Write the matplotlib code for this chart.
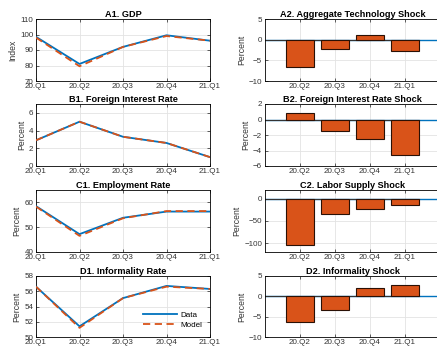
import matplotlib.pyplot as plt
import matplotlib as mpl

# ── data ─────────────────────────────────────────────────────────────────
QUARTERS = ["20.Q1", "20.Q2", "20.Q3", "20.Q4", "21.Q1"]
SHOCK_QUARTERS = ["20.Q2", "20.Q3", "20.Q4", "21.Q1"]

gdp_data = [98.5, 81.0, 92.0, 99.5, 96.0]
gdp_model = [98.0, 79.5, 92.0, 99.0, 96.0]
tech_shock = [-6.7, -2.3, 1.2, -2.7]

fir_data = [2.9, 5.0, 3.3, 2.6, 1.0]
fir_model = [2.9, 5.0, 3.3, 2.6, 1.0]
fir_shock = [0.8, -1.5, -2.5, -4.6]

emp_data = [58.5, 47.2, 53.8, 56.3, 56.3]
emp_model = [58.3, 46.5, 53.6, 56.5, 56.5]
labor_shock = [-105.0, -35.0, -24.0, -14.0]

inf_data = [56.6, 51.4, 55.1, 56.7, 56.3]
inf_model = [56.6, 51.2, 55.1, 56.6, 56.3]
inf_shock = [-6.2, -3.4, 2.0, 2.9]

BLUE = "#0072BD"
ORANGE = "#D95319"
EDGE = "#2a1005"

mpl.rcParams.update({
    "font.family": ["Liberation Sans", "DejaVu Sans"],
    "font.size": 5.8,
    "axes.linewidth": 0.6,
    "xtick.direction": "in",
    "ytick.direction": "in",
    "xtick.major.size": 2,
    "ytick.major.size": 2,
    "xtick.major.width": 0.5,
    "ytick.major.width": 0.5,
    "xtick.major.pad": 1.5,
    "ytick.major.pad": 2,
    "xtick.top": True,
    "ytick.right": True,
})

W, H = 437, 350
fig = plt.figure(figsize=(W / 100, H / 100), dpi=100)


def px_axes(x0, y0, x1, y1):
    return fig.add_axes([x0 / W, 1 - y1 / H, (x1 - x0) / W, (y1 - y0) / H])


def style(ax, title, ylabel):
    ax.set_title(title, fontsize=6.6, fontweight="bold", pad=1.5)
    ax.set_ylabel(ylabel, fontsize=6.2, color="#333333", labelpad=2)
    ax.grid(True, color="#e3e3e3", linewidth=0.6)
    ax.set_axisbelow(True)
    ax.tick_params(labelsize=5.8, colors="#222222", labelcolor="#333333")


def line_panel(ax, data, model, ylim, yticks, title, ylabel, legend=False):
    x = range(1, len(QUARTERS) + 1)
    ax.plot(x, data, color=BLUE, lw=1.3, label="Data", zorder=3)
    ax.plot(x, model, color=ORANGE, lw=1.3, ls=(0, (4, 2.5)), label="Model", zorder=4)
    ax.set_xlim(1, 5)
    ax.set_xticks(list(x))
    ax.set_xticklabels(QUARTERS)
    ax.set_ylim(*ylim)
    ax.set_yticks(yticks)
    style(ax, title, ylabel)
    if legend:
        ax.legend(loc="lower right", frameon=False, fontsize=5.8,
                  handlelength=4.2, handletextpad=0.4, labelspacing=0.3,
                  borderaxespad=0.6)


def bar_panel(ax, shocks, ylim, yticks, title, ylabel):
    x = list(range(2, 2 + len(shocks)))
    ax.axhline(0, color=BLUE, lw=1.0, zorder=2)
    ax.plot([1, x[-1] + 0.4], [0, 0], color="#333333", lw=0.8, zorder=2.5)
    ax.bar(x, shocks, width=0.8, color=ORANGE, edgecolor=EDGE, linewidth=0.8, zorder=3)
    ax.set_xlim(1, 6)
    ax.set_xticks(x)
    ax.set_xticklabels(SHOCK_QUARTERS)
    ax.set_ylim(*ylim)
    ax.set_yticks(yticks)
    style(ax, title, ylabel)
    ax.spines["right"].set_visible(False)


ROWS = [(19, 81), (104, 166), (190, 252), (276, 337)]
LX0, LX1 = 36, 210
RX0, RX1 = 265, 440

ax = px_axes(LX0, ROWS[0][0], LX1, ROWS[0][1])
line_panel(ax, gdp_data, gdp_model, (70, 110), [70, 80, 90, 100, 110], "A1. GDP", "Index")
ax = px_axes(RX0, ROWS[0][0], RX1, ROWS[0][1])
bar_panel(ax, tech_shock, (-10, 5), [-10, -5, 0, 5], "A2. Aggregate Technology Shock", "Percent")

ax = px_axes(LX0, ROWS[1][0], LX1, ROWS[1][1])
line_panel(ax, fir_data, fir_model, (0, 7), [0, 2, 4, 6], "B1. Foreign Interest Rate", "Percent")
ax = px_axes(RX0, ROWS[1][0], RX1, ROWS[1][1])
bar_panel(ax, fir_shock, (-6, 2), [-6, -4, -2, 0, 2], "B2. Foreign Interest Rate Shock", "Percent")

ax = px_axes(LX0, ROWS[2][0], LX1, ROWS[2][1])
line_panel(ax, emp_data, emp_model, (40, 65), [40, 50, 60], "C1. Employment Rate", "Percent")
ax = px_axes(RX0, ROWS[2][0], RX1, ROWS[2][1])
bar_panel(ax, labor_shock, (-120, 20), [-100, -50, 0], "C2. Labor Supply Shock", "Percent")

ax = px_axes(LX0, ROWS[3][0], LX1, ROWS[3][1])
line_panel(ax, inf_data, inf_model, (50, 58), [50, 52, 54, 56, 58], "D1. Informality Rate", "Percent",
           legend=True)
ax = px_axes(RX0, ROWS[3][0], RX1, ROWS[3][1])
bar_panel(ax, inf_shock, (-10, 5), [-10, -5, 0, 5], "D2. Informality Shock", "Percent")

fig.savefig("out.png", dpi=100)
